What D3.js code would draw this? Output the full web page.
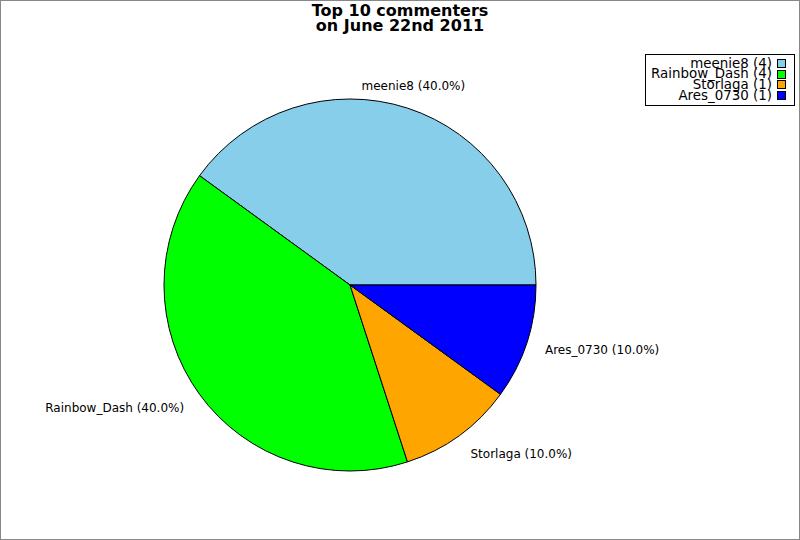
<!DOCTYPE html>
<html><head><meta charset="utf-8">
<script src="https://cdn.jsdelivr.net/npm/d3@7"></script>
<style>body{margin:0;background:#fff}svg{display:block}text{font-family:"DejaVu Sans",sans-serif}</style>
</head><body>
<svg id="c" width="800" height="540"></svg>
<script>
const names = ["meenie8", "Rainbow_Dash", "Storlaga", "Ares_0730"];
const counts = [4, 4, 1, 1];
const colors = ["#87ceeb", "#00ff00", "#ffa500", "#0000ff"];
const titleLines = ["Top 10 commenters", "on June 22nd 2011"];

const svg = d3.select("#c");
const W = 800, H = 540;
svg.append("rect").attr("x",0.5).attr("y",0.5).attr("width",W-1).attr("height",H-1)
  .attr("fill","#fff").attr("stroke","#888").attr("shape-rendering","crispEdges");

svg.append("g").selectAll("text").data(titleLines).join("text")
  .attr("x",400).attr("y",(d,i)=>16+i*15).attr("text-anchor","middle")
  .attr("font-weight","bold").attr("font-size",16).text(d=>d);

const cx = 350, cy = 285, R = 186;
const data = names.map((n,i)=>({name:n, value:counts[i], color:colors[i]}));
const total = d3.sum(counts);
const pie = d3.pie().value(d=>d.value).sort(null)
  .startAngle(Math.PI/2).endAngle(Math.PI/2 - 2*Math.PI);
const arcs = pie(data);
const arc = d3.arc().innerRadius(0).outerRadius(R);
const g = svg.append("g").attr("transform",`translate(${cx},${cy})`);
g.selectAll("path").data(arcs).join("path")
  .attr("d",arc).attr("fill",d=>d.data.color).attr("stroke","#000").attr("stroke-width",1);

const LRX = 205, LRY = 209;
g.selectAll("text").data(arcs).join("text")
  .each(function(d){
    const a = (d.startAngle + d.endAngle)/2; // d3 angle: 0 at top, clockwise
    const x = LRX*Math.sin(a), y = -LRY*Math.cos(a);
    const c = Math.sin(a);
    d3.select(this).attr("x",x).attr("y",y)
      .attr("text-anchor", c > 0.35 ? "start" : (c < -0.35 ? "end" : "middle"));
  })
  .attr("dy","0.35em").attr("font-size",12)
  .text(d=>`${d.data.name} (${(d.data.value/total*100).toFixed(1)}%)`);

// legend
const lg = svg.append("g");
lg.append("rect").attr("x",645.5).attr("y",54.5).attr("width",149).attr("height",51)
  .attr("fill","#fff").attr("stroke","#000").attr("shape-rendering","crispEdges");
const rows = lg.selectAll("g").data(data).join("g")
  .attr("transform",(d,i)=>`translate(0,${63+i*10.7})`);
rows.append("text").attr("x",772).attr("y",0).attr("dy","0.35em").attr("text-anchor","end")
  .attr("font-size",13.4).text(d=>`${d.name} (${d.value})`);
rows.append("rect").attr("x",777.5).attr("y",-3.5).attr("width",8).attr("height",8)
  .attr("fill",d=>d.color).attr("stroke","#000").attr("shape-rendering","crispEdges");
</script>
</body></html>
